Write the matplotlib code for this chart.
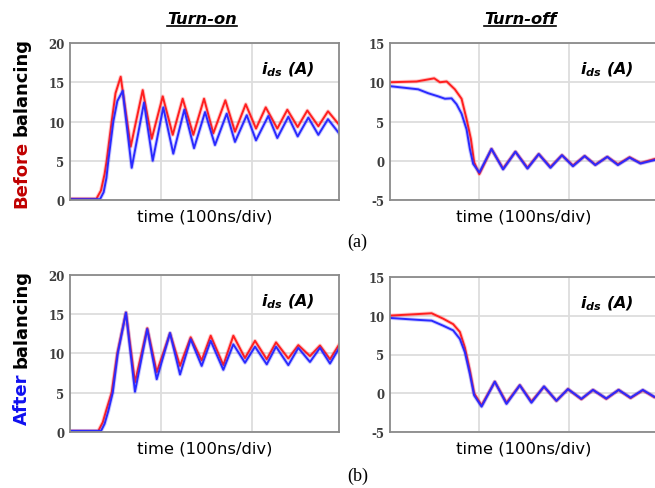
import matplotlib
matplotlib.use('Agg')
import matplotlib.pyplot as plt
import matplotlib.patheffects as pe
from matplotlib.lines import Line2D

plt.rcParams['font.family'] = 'DejaVu Sans'
plt.rcParams['mathtext.fontset'] = 'custom'
plt.rcParams['mathtext.it'] = 'DejaVu Sans:italic:bold'
plt.rcParams['mathtext.rm'] = 'DejaVu Sans:bold'
plt.rcParams['mathtext.bf'] = 'DejaVu Sans:bold'

# ---- data (time in divisions of 100 ns, current in A)

# before balancing, turn-on
on_before_t_red = [0, 0.29, 0.34, 0.38, 0.403, 0.458, 0.50, 0.557, 0.667, 0.799, 0.898, 1.019,
                   1.129, 1.238, 1.355, 1.473, 1.575, 1.707, 1.813, 1.931, 2.044, 2.151, 2.278,
                   2.388, 2.502, 2.608, 2.729, 2.835, 2.956]
on_before_red = [0.15, 0.15, 1.2, 3.3, 5.0, 10.0, 13.6, 15.7, 6.8, 14.0, 7.8, 13.2,
                 8.3, 12.9, 8.3, 12.9, 8.5, 12.7, 8.7, 12.2, 9.1, 11.8, 9.1,
                 11.5, 9.3, 11.4, 9.4, 11.3, 9.6]
on_before_t_blue = [0, 0.33, 0.37, 0.40, 0.421, 0.476, 0.52, 0.579, 0.678, 0.813, 0.909, 1.025,
                    1.135, 1.256, 1.363, 1.484, 1.593, 1.722, 1.813, 1.942, 2.044, 2.179, 2.278,
                    2.399, 2.502, 2.619, 2.729, 2.835, 2.956]
on_before_blue = [0.1, 0.1, 1.0, 2.8, 5.0, 10.0, 12.6, 13.9, 4.1, 12.4, 5.0, 11.8,
                  5.9, 11.5, 6.6, 11.2, 7.0, 11.0, 7.4, 10.8, 7.6, 10.7, 7.9,
                  10.6, 8.1, 10.5, 8.3, 10.3, 8.5]

# before balancing, turn-off
off_before_t_red = [0, 0.298, 0.495, 0.559, 0.634, 0.726, 0.801, 0.857, 0.905, 0.942, 1.0,
                    1.136, 1.266, 1.404, 1.539, 1.665, 1.796, 1.925, 2.048, 2.179, 2.298,
                    2.432, 2.551, 2.682, 2.804, 3.0]
off_before_red = [10.0, 10.1, 10.5, 10.0, 10.1, 9.1, 7.9, 5.3, 2.8, -0.2, -1.7,
                  1.5, -1.0, 1.15, -0.9, 0.85, -0.8, 0.7, -0.6, 0.6, -0.5,
                  0.5, -0.45, 0.45, -0.3, 0.35]
off_before_t_blue = [0, 0.316, 0.428, 0.540, 0.615, 0.689, 0.745, 0.801, 0.857, 0.894, 0.931,
                     1.0, 1.136, 1.266, 1.404, 1.539, 1.665, 1.796, 1.925, 2.048, 2.179,
                     2.298, 2.432, 2.551, 2.682, 2.804, 3.0]
off_before_blue = [9.5, 9.1, 8.6, 8.2, 7.9, 7.95, 7.2, 6.0, 4.0, 1.5, -0.4,
                   -1.5, 1.5, -1.1, 1.15, -1.0, 0.85, -0.9, 0.7, -0.7, 0.6,
                   -0.55, 0.5, -0.55, 0.4, -0.35, 0.2]

# after balancing, turn-on
on_after_t_red = [0, 0.311, 0.36, 0.40, 0.458, 0.52, 0.615, 0.714, 0.849, 0.953, 1.099,
                  1.209, 1.326, 1.447, 1.546, 1.685, 1.795, 1.923, 2.033, 2.162, 2.264,
                  2.399, 2.509, 2.637, 2.747, 2.857, 2.956]
on_after_red = [0.1, 0.1, 1.2, 2.8, 5.0, 10.0, 15.2, 6.3, 13.2, 7.6, 12.55,
                8.4, 12.05, 9.1, 12.25, 8.5, 12.25, 9.4, 11.6, 9.25, 11.4,
                9.35, 11.05, 9.65, 11.0, 9.25, 11.1]
on_after_t_blue = [0, 0.341, 0.38, 0.42, 0.47, 0.525, 0.615, 0.714, 0.849, 0.953, 1.099,
                   1.209, 1.326, 1.447, 1.546, 1.685, 1.795, 1.923, 2.033, 2.162, 2.264,
                   2.399, 2.509, 2.637, 2.747, 2.857, 2.956]
on_after_blue = [0.1, 0.1, 1.0, 2.6, 5.0, 10.0, 15.2, 5.1, 13.1, 6.7, 12.6,
                 7.3, 11.8, 8.4, 11.6, 7.9, 11.15, 8.8, 10.85, 8.6, 10.85,
                 8.5, 10.7, 8.9, 10.7, 8.7, 10.65]

# after balancing, turn-off
off_after_t = [0, 0.316, 0.466, 0.596, 0.707, 0.782, 0.838, 0.894, 0.942, 1.025, 1.173,
               1.304, 1.453, 1.583, 1.724, 1.863, 1.992, 2.142, 2.272, 2.421, 2.559,
               2.693, 2.830, 2.961, 3.0]
off_after_red = [10.0, 10.2, 10.3, 9.6, 8.9, 7.9, 5.9, 2.95, 0.0, -1.55, 1.5,
                 -1.2, 1.05, -1.05, 0.85, -0.95, 0.55, -0.75, 0.45, -0.7, 0.45,
                 -0.6, 0.4, -0.5, -0.4]
off_after_blue = [9.7, 9.45, 9.35, 8.7, 8.1, 7.0, 5.3, 2.5, -0.25, -1.7, 1.5,
                  -1.35, 1.05, -1.2, 0.9, -0.95, 0.55, -0.7, 0.45, -0.65, 0.45,
                  -0.55, 0.45, -0.45, -0.35]

on_yticks = [0, 5, 10, 15, 20]
off_yticks = [-5, 0, 5, 10, 15]

RED = '#ff1f1f'
BLUE = '#2a2aff'

W, H = 655, 489
fig = plt.figure(figsize=(W / 100, H / 100), dpi=100)
fig.patch.set_facecolor('white')


def px_axes(x0, y0, x1, y1):
    # box given in image pixels, origin top-left
    return fig.add_axes([x0 / W, 1 - y1 / H, (x1 - x0) / W, (y1 - y0) / H])


def setup(ax, xmax, yticks):
    ax.set_xlim(0, xmax)
    ax.set_ylim(yticks[0], yticks[-1])
    ax.set_xticks([1, 2])
    ax.set_xticklabels([])
    ax.set_yticks(yticks)
    ax.set_yticklabels([str(v) for v in yticks], fontfamily='DejaVu Serif',
                       fontweight='bold', fontsize=8.5, color='#3c3c3c')
    ax.tick_params(length=0, pad=4)
    ax.grid(True, color='#dddddd', lw=1.3)
    ax.set_axisbelow(True)
    for sp in ax.spines.values():
        sp.set_color('#8a8a8a')
        sp.set_linewidth(1.3)
    ax.set_xlabel('time (100ns/div)', fontsize=11.8, labelpad=2)
    ax.text(0.71, 0.805, r'$i_{ds}$ (A)', transform=ax.transAxes, fontsize=11.5,
            fontweight='bold', fontstyle='italic', va='baseline')


def trace(ax, t, y, color):
    ax.plot(t, y, color=color, lw=1.4, solid_joinstyle='round',
            path_effects=[pe.Stroke(linewidth=2.8, foreground=color, alpha=0.25), pe.Normal()])


ax_tl = px_axes(70, 44, 339, 201)
ax_tr = px_axes(390, 44, 658, 201)
ax_bl = px_axes(70, 276, 339, 432.7)
ax_br = px_axes(390, 277.7, 658, 433.3)

setup(ax_tl, 2.956, on_yticks)
setup(ax_tr, 3.0, off_yticks)
setup(ax_bl, 2.956, on_yticks)
setup(ax_br, 3.0, off_yticks)

trace(ax_tl, on_before_t_red, on_before_red, RED)
trace(ax_tl, on_before_t_blue, on_before_blue, BLUE)
trace(ax_tr, off_before_t_red, off_before_red, RED)
trace(ax_tr, off_before_t_blue, off_before_blue, BLUE)
trace(ax_bl, on_after_t_red, on_after_red, RED)
trace(ax_bl, on_after_t_blue, on_after_blue, BLUE)
trace(ax_br, off_after_t, off_after_red, RED)
trace(ax_br, off_after_t, off_after_blue, BLUE)

renderer = fig.canvas.get_renderer()

# column titles, underlined
for label, xc in [('Turn-on', 202), ('Turn-off', 520)]:
    t = fig.text(xc / W, 1 - 24.5 / H, label, ha='center', va='baseline',
                 fontsize=11.7, fontweight='bold', fontstyle='italic')
    bb = t.get_window_extent(renderer)
    yline = (bb.y0 + 1) / H
    fig.add_artist(Line2D([bb.x0 / W, bb.x1 / W], [yline, yline], color='black', lw=1.2))

# row labels, two colours
for word, color, ybot in [('Before', '#c00000', 208), ('After', '#1010f0', 425)]:
    t1 = fig.text(26.5 / W, 1 - ybot / H, word, rotation=90, rotation_mode='anchor',
                  ha='left', va='baseline', color=color, fontsize=13, fontweight='bold')
    bb = t1.get_window_extent(renderer)
    fig.text(26.5 / W, (bb.y1 + 5) / H, 'balancing', rotation=90, rotation_mode='anchor',
             ha='left', va='baseline', color='black', fontsize=13, fontweight='bold')

fig.text(357 / W, 1 - 242 / H, '(a)', ha='center', va='center',
         fontfamily='Liberation Serif', fontsize=13)
fig.text(358 / W, 1 - 476 / H, '(b)', ha='center', va='center',
         fontfamily='Liberation Serif', fontsize=13)

fig.savefig('out.png', dpi=100)
